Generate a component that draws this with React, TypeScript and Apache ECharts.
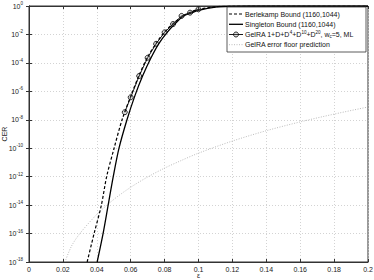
import React, { useEffect, useRef } from "react";
import * as echarts from "echarts";

const xTicks = [0, 0.02, 0.04, 0.06, 0.08, 0.1, 0.12, 0.14, 0.16, 0.18, 0.2];

const berlekampEps = [0.0343, 0.0384, 0.0427, 0.0458, 0.0502, 0.0549, 0.06, 0.065, 0.07, 0.075, 0.08, 0.085, 0.09, 0.095, 0.1, 0.11, 0.12, 0.13, 0.2];
const berlekampCer = [1e-18, 1e-16, 1e-14, 1e-12, 1e-10, 1e-8, 4.5e-7, 1.4e-5, 2.6e-4, 2.4e-3, 1.5e-2, 5.8e-2, 0.17, 0.36, 0.58, 0.88, 0.98, 1, 1];

const singletonEps = [0.0402, 0.0437, 0.0467, 0.0497, 0.0531, 0.0578, 0.0625, 0.067, 0.072, 0.0765, 0.0815, 0.086, 0.091, 0.096, 0.1, 0.11, 0.12, 0.13, 0.2];
const singletonCer = [1e-18, 1e-16, 1e-14, 1e-12, 1e-10, 1e-8, 5e-7, 1.2e-5, 2.3e-4, 2.2e-3, 1.4e-2, 5.4e-2, 0.19, 0.33, 0.5, 0.84, 0.97, 1, 1];

const gelraEps = [0.0565, 0.06, 0.065, 0.07, 0.075, 0.08, 0.085, 0.09, 0.095, 0.1];
const gelraCer = [3.4e-8, 3.8e-7, 1.2e-5, 2.3e-4, 2.2e-3, 1.4e-2, 5.4e-2, 0.2, 0.34, 0.59];

const floorEps = [0.0212, 0.025, 0.03, 0.04, 0.05, 0.06, 0.07, 0.08, 0.09, 0.1, 0.12, 0.14, 0.16, 0.18, 0.2];
const floorCer = [1e-18, 1.26e-17, 1e-16, 2.2e-15, 2.5e-14, 1.8e-13, 9.5e-13, 4e-12, 1.4e-11, 4.5e-11, 3.2e-10, 1.7e-9, 7.1e-9, 2.5e-8, 7.9e-8];

const seriesNames = [
  "Berlekamp Bound (1160,1044)",
  "Singleton Bound (1160,1044)",
  "GelRA 1+D+D4+D10+D20, wc=5, ML",
  "GelRA error floor prediction",
];
const legendTexts = [
  "Berlekamp Bound (1160,1044)",
  "Singleton Bound (1160,1044)",
  "GelRA 1+D+D{s|4}+D{s|10}+D{s|20}, w{c|c}=5, ML",
  "GelRA error floor prediction",
];

const zip = (a: number[], b: number[]) => a.map((v, i) => [v, b[i]]);

const FONT = "Liberation Sans";

export default function App() {
  const ref = useRef<HTMLDivElement>(null);
  useEffect(() => {
    if (!ref.current) return;
    const chart = echarts.init(ref.current, null, { renderer: "svg" });
    const axisLineStyle = { color: "#333", width: 1 };

    const LX = 227, LY = 7, LW = 139, LH = 45;
    const rowY = [14, 24.3, 34.5, 44.7];
    const sampleStyles = [
      { stroke: "#000", lineWidth: 1.2, lineDash: [3, 2] },
      { stroke: "#000", lineWidth: 1.3 },
      { stroke: "#000", lineWidth: 0.9 },
      { stroke: "#aaa", lineWidth: 0.8, lineDash: [1, 1.5] },
    ];
    const legendGraphics: any[] = [
      {
        type: "rect",
        shape: { x: LX, y: LY, width: LW, height: LH },
        style: { fill: "#fff", stroke: "#333", lineWidth: 0.8 },
        z: 10,
      },
    ];
    rowY.forEach((y, i) => {
      legendGraphics.push({
        type: "line",
        shape: { x1: LX + 2, y1: y, x2: LX + 16, y2: y },
        style: sampleStyles[i],
        z: 11,
      });
      if (i === 2) {
        legendGraphics.push({
          type: "circle",
          shape: { cx: LX + 9, cy: y, r: 2.5 },
          style: { fill: "rgba(120,120,120,0.25)", stroke: "#000", lineWidth: 0.8 },
          z: 12,
        });
      }
      legendGraphics.push({
        type: "text",
        x: LX + 18,
        y: y,
        style: {
          text: legendTexts[i],
          fontFamily: FONT,
          fontSize: 7,
          fill: "#111",
          verticalAlign: "middle",
          align: "left",
          rich: {
            s: { fontSize: 4.5, fontFamily: FONT, fill: "#111", padding: [0, 0, 4, 0] },
            c: { fontSize: 4.5, fontFamily: FONT, fill: "#111", padding: [3, 0, 0, 0] },
          },
        },
        z: 12,
      });
    });

    chart.setOption({
      animation: false,
      backgroundColor: "#fff",
      textStyle: { fontFamily: FONT },
      grid: {
        left: 29,
        right: 6,
        top: 6,
        bottom: 18,
        containLabel: false,
        outerBoundsMode: "none",
        show: true,
        borderColor: "#333",
        borderWidth: 1,
      },
      graphic: legendGraphics,
      xAxis: [
        {
          type: "value",
          min: 0,
          max: 0.2,
          interval: 0.02,
          name: "ε",
          nameLocation: "middle",
          nameGap: 10,
          nameMoveOverlap: false,
          nameTextStyle: { fontFamily: FONT, fontSize: 7, color: "#222" },
          axisLine: { lineStyle: axisLineStyle },
          axisTick: { inside: true, length: 3, lineStyle: { color: "#333" } },
          axisLabel: {
            fontFamily: FONT,
            fontSize: 7,
            color: "#222",
            margin: 4,
            formatter: (v: number) => {
              const t = xTicks.find((x) => Math.abs(x - v) < 1e-9);
              return t === undefined ? "" : String(Number(t.toFixed(2)));
            },
          },
          splitLine: { show: true, lineStyle: { color: "#c8c8c8", type: [1, 2], width: 0.8 } },
        },
        {
          type: "value",
          position: "top",
          min: 0,
          max: 0.2,
          interval: 0.02,
          axisLine: { lineStyle: axisLineStyle },
          axisTick: { inside: true, length: 3, lineStyle: { color: "#333" } },
          axisLabel: { show: false },
          splitLine: { show: false },
        },
      ],
      yAxis: [
        {
          type: "log",
          logBase: 10,
          min: 1e-18,
          max: 1,
          interval: 2,
          name: "CER",
          nameLocation: "middle",
          nameGap: 21,
          nameMoveOverlap: false,
          nameTextStyle: { fontFamily: FONT, fontSize: 7, color: "#222" },
          axisLine: { lineStyle: axisLineStyle },
          axisTick: { inside: true, length: 3, lineStyle: { color: "#333" } },
          minorTick: { show: false },
          axisLabel: {
            fontFamily: FONT,
            fontSize: 7,
            color: "#222",
            margin: 6,
            formatter: (v: number) => {
              const e = Math.round(Math.log10(v));
              return "10{s|" + e + "}";
            },
            rich: {
              s: { fontSize: 4.5, fontFamily: FONT, color: "#222", padding: [0, 0, 5, 0] },
            },
          },
          splitLine: { show: true, lineStyle: { color: "#c8c8c8", type: [1, 2], width: 0.8 } },
        },
        {
          type: "log",
          logBase: 10,
          min: 1e-18,
          max: 1,
          interval: 2,
          position: "right",
          axisLine: { lineStyle: axisLineStyle },
          axisTick: { inside: true, length: 3, lineStyle: { color: "#333" } },
          axisLabel: { show: false },
          splitLine: { show: false },
        },
      ],
      series: [
        {
          name: seriesNames[0],
          type: "line",
          data: zip(berlekampEps, berlekampCer),
          symbol: "none",
          smooth: 0.3,
          lineStyle: { color: "#000", width: 1.2, type: [3, 2] },
          itemStyle: { color: "#000" },
          z: 3,
        },
        {
          name: seriesNames[1],
          type: "line",
          data: zip(singletonEps, singletonCer),
          symbol: "none",
          smooth: 0.3,
          lineStyle: { color: "#000", width: 1.3 },
          itemStyle: { color: "#000" },
          z: 3,
        },
        {
          name: seriesNames[2],
          type: "line",
          data: zip(gelraEps, gelraCer),
          symbol: "circle",
          symbolSize: 5,
          lineStyle: { color: "#000", width: 0.9 },
          itemStyle: { color: "rgba(120,120,120,0.25)", borderColor: "#000", borderWidth: 0.8 },
          z: 4,
        },
        {
          name: seriesNames[3],
          type: "line",
          data: zip(floorEps, floorCer),
          symbol: "none",
          smooth: 0.3,
          lineStyle: { color: "#aaa", width: 0.8, type: [1, 1.5] },
          itemStyle: { color: "#aaa" },
          z: 2,
        },
      ],
    });
    return () => chart.dispose();
  }, []);
  return <div ref={ref} style={{ width: 374, height: 280, position: "absolute", left: 0, top: 0 }} />;
}
